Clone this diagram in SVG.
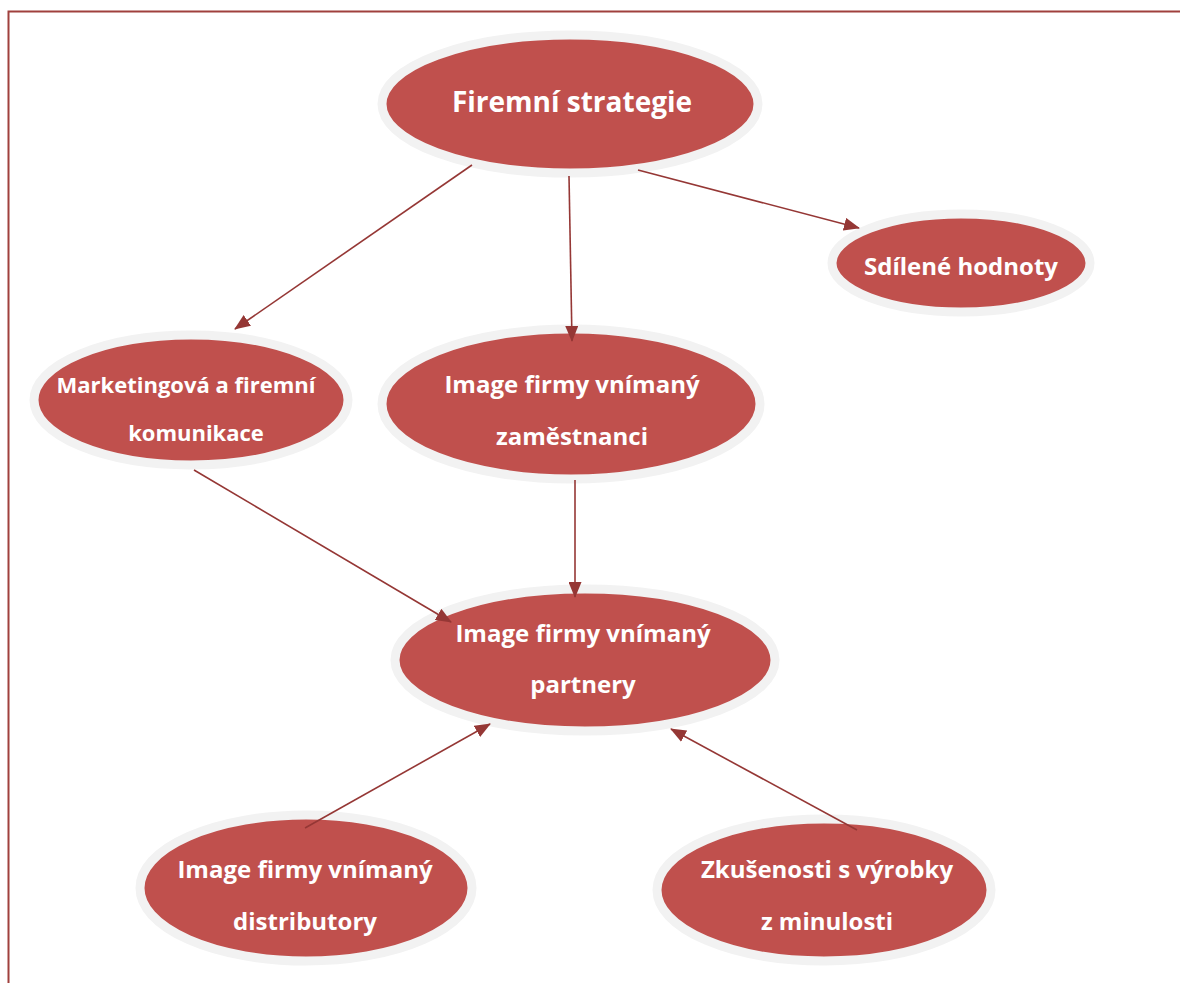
<svg xmlns="http://www.w3.org/2000/svg" width="1180" height="983" viewBox="0 0 1180 983">
<style>
.halo{fill:#c0504d;stroke:#f2f2f2;stroke-width:9}
.t{fill:#ffffff;font-family:"Open Sans","Liberation Sans",sans-serif;font-weight:bold;text-anchor:middle}
.c{stroke:#953735;stroke-width:1.6;fill:none;marker-end:url(#ah)}
</style>
<defs>
<marker id="ah" viewBox="0 0 16 13" refX="15" refY="6.5" markerWidth="16" markerHeight="13" markerUnits="userSpaceOnUse" orient="auto">
<path d="M0,0 L16,6.5 L0,13 Z" fill="#953735"/>
</marker>
</defs>
<rect width="1180" height="983" fill="#ffffff"/>
<path d="M8.5,983 V11.5 H1180" fill="none" stroke="#a0403d" stroke-width="2"/>
<g id="n1">
<ellipse class="halo" cx="570" cy="104" rx="188" ry="69"/>
<text class="t" x="572" y="112" font-size="28">Firemní strategie</text>
</g>
<g id="n2">
<ellipse class="halo" cx="961" cy="263" rx="129" ry="49"/>
<text class="t" x="961" y="275" font-size="24">Sdílené hodnoty</text>
</g>
<g id="n3">
<ellipse class="halo" cx="191" cy="400" rx="157" ry="65"/>
<text class="t" x="186" y="393" font-size="22">Marketingová a firemní</text>
<text class="t" x="196" y="441" font-size="22">komunikace</text>
</g>
<g id="n4">
<ellipse class="halo" cx="571" cy="404" rx="189" ry="75"/>
<text class="t" x="572" y="393" font-size="24">Image firmy vnímaný</text>
<text class="t" x="572" y="445" font-size="24">zaměstnanci</text>
</g>
<g id="n5">
<ellipse class="halo" cx="585" cy="660" rx="190" ry="71"/>
<text class="t" x="583" y="642" font-size="24">Image firmy vnímaný</text>
<text class="t" x="583" y="693" font-size="24">partnery</text>
</g>
<g id="n6">
<ellipse class="halo" cx="306" cy="888" rx="166" ry="73"/>
<text class="t" x="305" y="878" font-size="24">Image firmy vnímaný</text>
<text class="t" x="305" y="930" font-size="24">distributory</text>
</g>
<g id="n7">
<ellipse class="halo" cx="824" cy="890" rx="167" ry="71"/>
<text class="t" x="827" y="878" font-size="24">Zkušenosti s výrobky</text>
<text class="t" x="827" y="930" font-size="24">z minulosti</text>
</g>
<g id="connectors">
<line class="c" x1="472" y1="165" x2="235" y2="329"/>
<line class="c" x1="569" y1="176" x2="572" y2="341"/>
<line class="c" x1="638" y1="170" x2="859" y2="228"/>
<line class="c" x1="194" y1="470" x2="451" y2="622"/>
<line class="c" x1="575" y1="480" x2="575" y2="597"/>
<line class="c" x1="305" y1="828" x2="490" y2="724"/>
<line class="c" x1="857" y1="830" x2="671" y2="729"/>
</g>
</svg>
